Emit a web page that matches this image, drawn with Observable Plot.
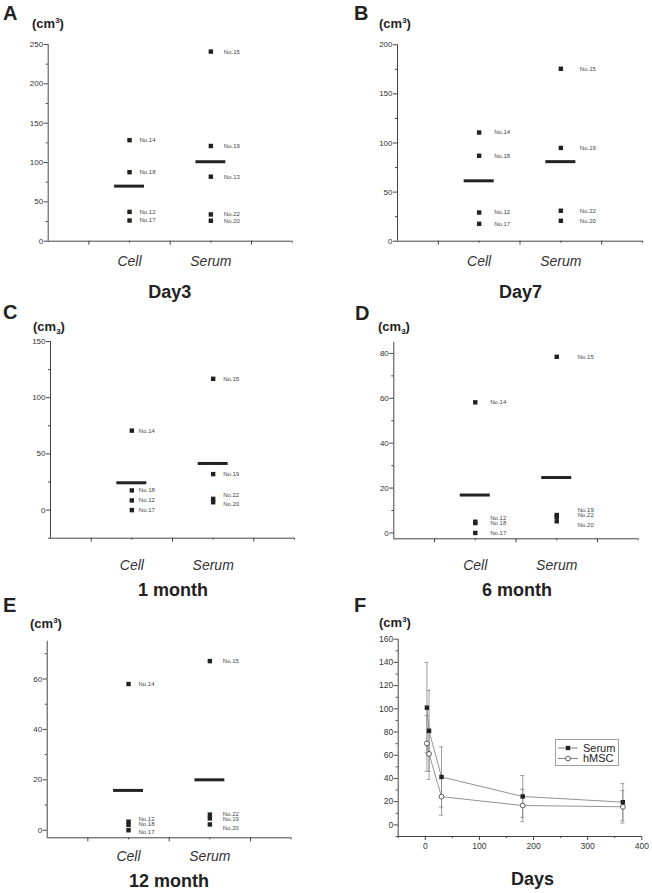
<!DOCTYPE html>
<html><head><meta charset="utf-8">
<script src="https://cdn.jsdelivr.net/npm/d3@7"></script>
<script src="https://cdn.jsdelivr.net/npm/@observablehq/plot@0.6"></script>
<style>
body{margin:0;background:#fff;}
#page{position:relative;width:652px;height:893px;overflow:hidden;background:#fff;font-family:"Liberation Sans",Arial,sans-serif;}
.panel{position:absolute;}
.panel svg{display:block;max-width:none;}
#overlay{position:absolute;left:0;top:0;pointer-events:none;}
</style></head><body><div id="page"></div>
<script>
const FONT = '"Liberation Sans", Arial, sans-serif';
const groups = ["Cell", "Serum"];

// Panel A – Day3
const day3Ids    = ["No.14","No.18","No.12","No.17","No.15","No.19","No.13","No.22","No.20"];
const day3Group  = ["Cell","Cell","Cell","Cell","Serum","Serum","Serum","Serum","Serum"];
const day3Values = [128.4, 87.7, 37.3, 26.3, 241, 121, 82, 34, 26];
const day3Means  = [70, 101];
const day3Ticks  = [0, 50, 100, 150, 200, 250];
const day3Minor  = [25, 75, 125, 175, 225];

// Panel B – Day7
const day7Ids    = ["No.14","No.18","No.12","No.17","No.15","No.19","No.22","No.20"];
const day7Group  = ["Cell","Cell","Cell","Cell","Serum","Serum","Serum","Serum"];
const day7Values = [110.7, 87, 29.2, 17.7, 175.6, 95, 31, 20.8];
const day7Means  = [61.5, 81];
const day7Ticks  = [0, 50, 100, 150, 200];
const day7Minor  = [25, 75, 125, 175];

// Panel C – 1 month
const m1Ids     = ["No.14","No.18","No.12","No.17","No.15","No.19","No.22","No.20"];
const m1Group   = ["Cell","Cell","Cell","Cell","Serum","Serum","Serum","Serum"];
const m1Values  = [70.7, 17.5, 8.6, 0, 116.8, 32, 10, 7];
const m1LabelAt = [70.7, 17.5, 8.6, 0, 116.8, 32, 13, 5.3];
const m1Means   = [24.3, 41.5];
const m1Ticks   = [0, 50, 100, 150];
const m1Minor   = [-25, 25, 75, 125];

// Panel D – 6 month
const m6Ids     = ["No.14","No.12","No.18","No.17","No.15","No.19","No.22","No.20"];
const m6Group   = ["Cell","Cell","Cell","Cell","Serum","Serum","Serum","Serum"];
const m6Values  = [58.2, 5, 4.4, 0, 78.5, 8, 7.2, 5.2];
const m6LabelAt = [58.2, 6.7, 4.4, 0, 78.5, 10.1, 7.8, 3.7];
const m6Means   = [16.9, 24.7];
const m6Ticks   = [0, 20, 40, 60, 80];
const m6Minor   = [10, 30, 50, 70];

// Panel E – 12 month
const m12Ids     = ["No.14","No.12","No.18","No.17","No.15","No.22","No.19","No.20"];
const m12Group   = ["Cell","Cell","Cell","Cell","Serum","Serum","Serum","Serum"];
const m12Values  = [58, 3.4, 2.1, 0, 67.1, 6.2, 4.7, 2.3];
const m12LabelAt = [58, 4.5, 2.4, -0.8, 67.1, 6.6, 4.5, 1.0];
const m12Means   = [15.8, 20];
const m12Ticks   = [0, 20, 40, 60];
const m12Minor   = [10, 30, 50, 70];

// Panel F – time course
const fDays       = [3, 7, 30, 180, 365];
const fSerumMean  = [101, 81, 41.3, 24.5, 19.6];
const fSerumSD    = [39, 35, 26, 18, 16];
const fHmscMean   = [70.2, 61.2, 24.3, 16.7, 15.6];
const fHmscSD     = [24, 22, 16, 14, 14];
const fXTicks     = [0, 100, 200, 300, 400];
const fXMinor     = [-50, 50, 150, 250, 350];
const fYTicks     = [0, 20, 40, 60, 80, 100, 120, 140, 160];
const fYMinor     = [-10, 10, 30, 50, 70, 90, 110, 130, 150];
const fSeries     = ["Serum", "hMSC"];

const catMajor = [0.5, 1.5, 2.5];
const axisStroke = "#444";

const page = document.getElementById("page");

function place(svg, left, top) {
  const d = document.createElement("div");
  d.className = "panel";
  d.style.left = left + "px";
  d.style.top = top + "px";
  d.appendChild(svg);
  page.appendChild(d);
}

function catPanel(cfg) {
  const labelAt = cfg.labelAt || cfg.values;
  const data = cfg.ids.map((id, i) => ({
    id, group: cfg.group[i], pos: groups.indexOf(cfg.group[i]) + 1,
    value: cfg.values[i], labelAt: labelAt[i]
  }));
  const means = cfg.means.map((m, i) => ({pos: i + 1, value: m}));
  const half = 0.184;
  return Plot.plot({
    width: cfg.width, height: cfg.height,
    marginLeft: cfg.m[0], marginRight: cfg.m[1], marginTop: cfg.m[2], marginBottom: cfg.m[3],
    x: {domain: [0, 3]},
    y: {domain: cfg.yDomain},
    style: {background: "transparent", color: "#333", fontFamily: FONT, overflow: "visible"},
    marks: [
      Plot.ruleX([0], {stroke: axisStroke, strokeWidth: 1}),
      Plot.ruleY([cfg.yDomain[0]], {stroke: axisStroke, strokeWidth: 1}),
      Plot.axisY(cfg.yTicks, {tickSize: 4, tickPadding: 1, fontSize: 8, label: null, stroke: axisStroke, fill: "#333"}),
      Plot.axisY(cfg.yMinor, {tickSize: 2, tickFormat: () => "", label: null, stroke: axisStroke}),
      Plot.axisX(catMajor, {tickSize: 4, tickFormat: () => "", label: null, stroke: axisStroke}),
      Plot.axisX([3], {tickSize: 2, tickFormat: () => "", label: null, stroke: axisStroke}),
      Plot.axisX([1, 2], {tickSize: 2, tickPadding: cfg.catPad, tickFormat: d => groups[d - 1],
        fontSize: 14, fontStyle: "italic", label: null, stroke: axisStroke, fill: "#333"}),
      Plot.ruleY(means, {y: "value", x1: d => d.pos - half, x2: d => d.pos + half, stroke: "#222", strokeWidth: 3}),
      Plot.dot(data, {x: "pos", y: "value", symbol: "square", r: 2.5, fill: "#222"}),
      Plot.text(data.filter(d => d.group === "Cell"), {x: "pos", y: "labelAt", text: "id", textAnchor: "start",
        dx: cfg.dx[0], fontSize: 6, fill: "#444"}),
      Plot.text(data.filter(d => d.group === "Serum"), {x: "pos", y: "labelAt", text: "id", textAnchor: "start",
        dx: cfg.dx[1], fontSize: 6, fill: "#444"})
    ]
  });
}

place(catPanel({width: 326, height: 300, m: [47.7, 34.3, 44, 59.3], yDomain: [0, 250],
  ids: day3Ids, group: day3Group, values: day3Values, means: day3Means,
  yTicks: day3Ticks, yMinor: day3Minor, catPad: 13, dx: [10, 13]}), 0, 0);

place(catPanel({width: 326, height: 300, m: [71, 10, 44.3, 59.3], yDomain: [0, 200],
  ids: day7Ids, group: day7Group, values: day7Values, means: day7Means,
  yTicks: day7Ticks, yMinor: day7Minor, catPad: 13, dx: [15, 19]}), 326, 0);

place(catPanel({width: 326, height: 300, m: [50, 32, 51, 52.3], yDomain: [-25, 150],
  ids: m1Ids, group: m1Group, values: m1Values, labelAt: m1LabelAt, means: m1Means,
  yTicks: m1Ticks, yMinor: m1Minor, catPad: 20, dx: [7, 10]}), 0, 290);

place(catPanel({width: 326, height: 300, m: [67.3, 14.3, 51.7, 51.7], yDomain: [-2.6, 85],
  ids: m6Ids, group: m6Group, values: m6Values, labelAt: m6LabelAt, means: m6Means,
  yTicks: m6Ticks, yMinor: m6Minor, catPad: 19.7, dx: [15, 21]}), 326, 290);

place(catPanel({width: 326, height: 303, m: [46.7, 35.3, 50.7, 55.7], yDomain: [-3, 75],
  ids: m12Ids, group: m12Group, values: m12Values, labelAt: m12LabelAt, means: m12Means,
  yTicks: m12Ticks, yMinor: m12Minor, catPad: 11.5, dx: [10, 13]}), 0, 590);

// Panel F
const serum = fDays.map((d, i) => ({day: d, m: fSerumMean[i], sd: fSerumSD[i]}));
const hmsc  = fDays.map((d, i) => ({day: d, m: fHmscMean[i], sd: fHmscSD[i]}));
const cap = 3.7;
const errMarks = (arr) => [
  Plot.ruleX(arr, {x: "day", y1: d => d.m - d.sd, y2: d => d.m + d.sd, stroke: "#888", strokeWidth: 0.8}),
  Plot.ruleY(arr, {y: d => d.m + d.sd, x1: d => d.day - cap, x2: d => d.day + cap, stroke: "#888", strokeWidth: 0.8}),
  Plot.ruleY(arr, {y: d => d.m - d.sd, x1: d => d.day - cap, x2: d => d.day + cap, stroke: "#888", strokeWidth: 0.8})
];
place(Plot.plot({
  width: 326, height: 303,
  marginLeft: 71.7, marginRight: 10.7, marginTop: 48.7, marginBottom: 57,
  x: {domain: [-50, 400]},
  y: {domain: [-10, 160]},
  style: {background: "transparent", color: "#333", fontFamily: FONT, overflow: "visible"},
  marks: [
    Plot.ruleX([-50], {stroke: axisStroke}),
    Plot.ruleY([-10], {stroke: axisStroke}),
    Plot.axisY(fYTicks, {tickSize: 4, tickPadding: 1, fontSize: 8.5, label: null, stroke: axisStroke, fill: "#333"}),
    Plot.axisY(fYMinor, {tickSize: 2, tickFormat: () => "", label: null, stroke: axisStroke}),
    Plot.axisX(fXTicks, {tickSize: 4, tickPadding: 2, fontSize: 8.5, label: null, stroke: axisStroke, fill: "#333"}),
    Plot.axisX(fXMinor, {tickSize: 2, tickFormat: () => "", label: null, stroke: axisStroke}),
    ...errMarks(hmsc),
    ...errMarks(serum),
    Plot.line(hmsc, {x: "day", y: "m", stroke: "#777", strokeWidth: 0.8}),
    Plot.line(serum, {x: "day", y: "m", stroke: "#777", strokeWidth: 0.8}),
    Plot.dot(hmsc, {x: "day", y: "m", symbol: "circle", r: 2.4, fill: "white", stroke: "#333", strokeWidth: 0.8}),
    Plot.dot(serum, {x: "day", y: "m", symbol: "square", r: 2.5, fill: "#222"})
  ]
}), 326, 590);

// Overlay: panel letters, units, titles, legend
const ov = d3.select(page).append("svg").attr("id", "overlay")
  .attr("width", 652).attr("height", 893)
  .style("font-family", FONT).attr("fill", "#222");

const letters = [["A", 3, 20], ["B", 354, 20], ["C", 3, 319], ["D", 355, 320], ["E", 3, 611.5], ["F", 354, 612]];
letters.forEach(([t, x, y]) => ov.append("text").attr("x", x).attr("y", y)
  .attr("font-size", 20).attr("font-weight", "bold").text(t));

const units = [[32, 27.5, "sup"], [379, 27.5, "sup"], [33, 331, "sub"], [378, 331, "sub"], [30, 627.5, "sup"], [379, 626.5, "sup"]];
units.forEach(([x, y, kind]) => {
  const t = ov.append("text").attr("x", x).attr("y", y).attr("font-size", 13).attr("font-weight", "bold");
  t.append("tspan").text("(cm");
  const dy = kind === "sup" ? -5 : 3;
  t.append("tspan").attr("dy", dy).attr("font-size", 8).text("3");
  t.append("tspan").attr("dy", -dy).text(")");
});

const titles = [["Day3", 169.7, 298], ["Day7", 520.5, 298], ["1 month", 173, 596], ["6 month", 517, 596], ["12 month", 169, 887], ["Days", 532.5, 885]];
titles.forEach(([t, x, y]) => ov.append("text").attr("x", x).attr("y", y).attr("text-anchor", "middle")
  .attr("font-size", 18).attr("font-weight", "bold").text(t));

// Legend for F
const lg = ov.append("g");
lg.append("rect").attr("x", 555.5).attr("y", 739.5).attr("width", 63).attr("height", 26)
  .attr("fill", "white").attr("stroke", "#888").attr("stroke-width", 0.8);
fSeries.forEach((name, i) => {
  const cy = 748 + i * 10.5;
  lg.append("line").attr("x1", 558).attr("x2", 578).attr("y1", cy).attr("y2", cy).attr("stroke", "#666").attr("stroke-width", 0.8);
  if (i === 0) lg.append("rect").attr("x", 565.8).attr("y", cy - 2.2).attr("width", 4.4).attr("height", 4.4).attr("fill", "#222");
  else lg.append("circle").attr("cx", 568).attr("cy", cy).attr("r", 2.4).attr("fill", "white").attr("stroke", "#333").attr("stroke-width", 0.8);
  lg.append("text").attr("x", 583).attr("y", cy + 3.8).attr("font-size", 11).attr("fill", "#222").text(name);
});
</script></body></html>
